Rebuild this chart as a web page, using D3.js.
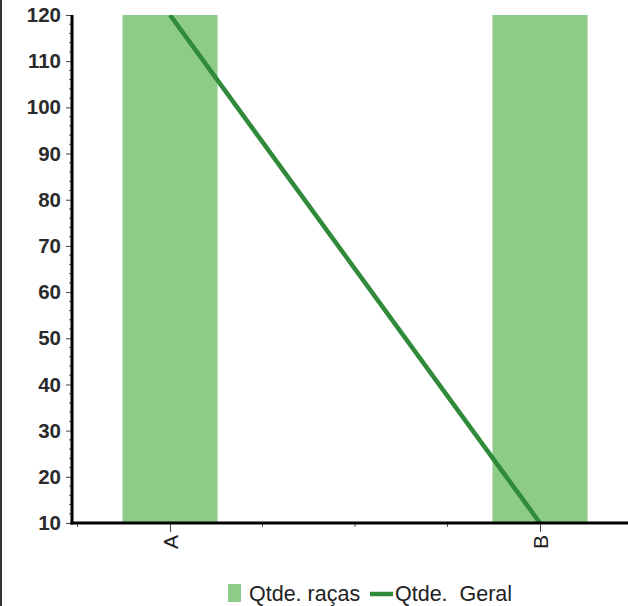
<!DOCTYPE html>
<html>
<head>
<meta charset="utf-8">
<script src="https://cdn.jsdelivr.net/npm/d3@7"></script>
<style>
  html, body { margin: 0; padding: 0; background: #fff; }
  svg { display: block; font-family: "Liberation Sans", Arial, sans-serif; }
</style>
</head>
<body>
<svg id="chart" width="628" height="606"></svg>
<script>
// ---- data ----
const categories = ["A", "B"];
const racasValues = [125, 125];      // Qtde. raças (bars run past the top of the axis)
const geralValues = [120, 10];       // Qtde. Geral (line)
const yTickValues = [10, 20, 30, 40, 50, 60, 70, 80, 90, 100, 110, 120];
const seriesNames = ["Qtde. raças", "Qtde.  Geral"];

// ---- layout ----
const W = 628, H = 606;
const plot = { left: 72, top: 15, bottom: 523, right: 640 };
const barColor = "#8dcb89";
const lineColor = "#2f8a3a";

const svg = d3.select("#chart");

// left frame border
svg.append("line").attr("x1", 1).attr("x2", 1).attr("y1", 0).attr("y2", H)
  .attr("stroke", "#333").attr("stroke-width", 2);

const y = d3.scaleLinear().domain([10, 120]).range([plot.bottom, plot.top]);
// categories on an index scale: A -> 0, B -> 1
const x = d3.scaleLinear().domain([0, 1]).range([170, 540]);
const barW = x(0.257) - x(0);

svg.append("defs").append("clipPath").attr("id", "clip")
  .append("rect").attr("x", plot.left).attr("y", plot.top)
  .attr("width", W - plot.left).attr("height", plot.bottom - plot.top);

const g = svg.append("g").attr("clip-path", "url(#clip)");

// bars
g.selectAll("rect.bar").data(categories).join("rect")
  .attr("class", "bar")
  .attr("x", (d, i) => x(i) - barW / 2)
  .attr("width", barW)
  .attr("y", (d, i) => y(racasValues[i]))
  .attr("height", (d, i) => y(10) - y(racasValues[i]))
  .attr("fill", barColor);

// line
const line = d3.line().x((d, i) => x(i)).y(d => y(d));
g.append("path").datum(geralValues)
  .attr("d", line)
  .attr("fill", "none")
  .attr("stroke", lineColor)
  .attr("stroke-width", 4.5);

// y axis major
const yAxis = d3.axisLeft(y).tickValues(yTickValues).tickSize(6).tickPadding(4);
const yg = svg.append("g").attr("transform", `translate(${plot.left},0)`).call(yAxis);
yg.select(".domain").remove();
yg.selectAll(".tick line").attr("stroke", "#444").attr("stroke-width", 1);
yg.selectAll(".tick text").attr("font-size", 20.5).attr("fill", "#2a2a2a")
  .attr("font-weight", "bold").attr("dx", "-1");

// y axis minor
const minorY = d3.range(10, 120, 2).filter(v => v % 10 !== 0);
svg.append("g").selectAll("line").data(minorY).join("line")
  .attr("x1", plot.left - 3).attr("x2", plot.left)
  .attr("y1", d => y(d)).attr("y2", d => y(d))
  .attr("stroke", "#555").attr("stroke-width", 1);

// y axis line
svg.append("line").attr("x1", plot.left).attr("x2", plot.left)
  .attr("y1", plot.top).attr("y2", plot.bottom + 1.5)
  .attr("stroke", "#000").attr("stroke-width", 3);

// x axis
const xAxis = d3.axisBottom(x).tickValues([0, 1]).tickSize(9)
  .tickFormat(i => categories[i]);
const xg = svg.append("g").attr("transform", `translate(0,${plot.bottom})`).call(xAxis);
xg.select(".domain").remove();
xg.selectAll(".tick line").attr("stroke", "#444").attr("stroke-width", 1);
xg.selectAll(".tick text")
  .attr("font-size", 21).attr("fill", "#222")
  .attr("transform", "rotate(-90)")
  .attr("text-anchor", "end")
  .attr("x", -12).attr("y", 0).attr("dy", "0.35em");

// x minor ticks
const minorX = [-0.25, 0.25, 0.5, 0.75];
svg.append("g").selectAll("line").data(minorX).join("line")
  .attr("x1", d => x(d)).attr("x2", d => x(d))
  .attr("y1", plot.bottom).attr("y2", plot.bottom + 4)
  .attr("stroke", "#555").attr("stroke-width", 1);

// x axis line
svg.append("line").attr("x1", plot.left - 1.5).attr("x2", W)
  .attr("y1", plot.bottom).attr("y2", plot.bottom)
  .attr("stroke", "#000").attr("stroke-width", 3);

// legend
const lg = svg.append("g").attr("font-size", 21.5).attr("fill", "#222");
lg.append("rect").attr("x", 228).attr("y", 584).attr("width", 13).attr("height", 18)
  .attr("fill", barColor);
lg.append("text").attr("x", 249).attr("y", 601).text(seriesNames[0]);
lg.append("line").attr("x1", 370).attr("x2", 393).attr("y1", 594).attr("y2", 594)
  .attr("stroke", lineColor).attr("stroke-width", 4.5);
lg.append("text").attr("x", 395).attr("y", 601).attr("xml:space", "preserve")
  .style("white-space", "pre").text(seriesNames[1]);
</script>
</body>
</html>
